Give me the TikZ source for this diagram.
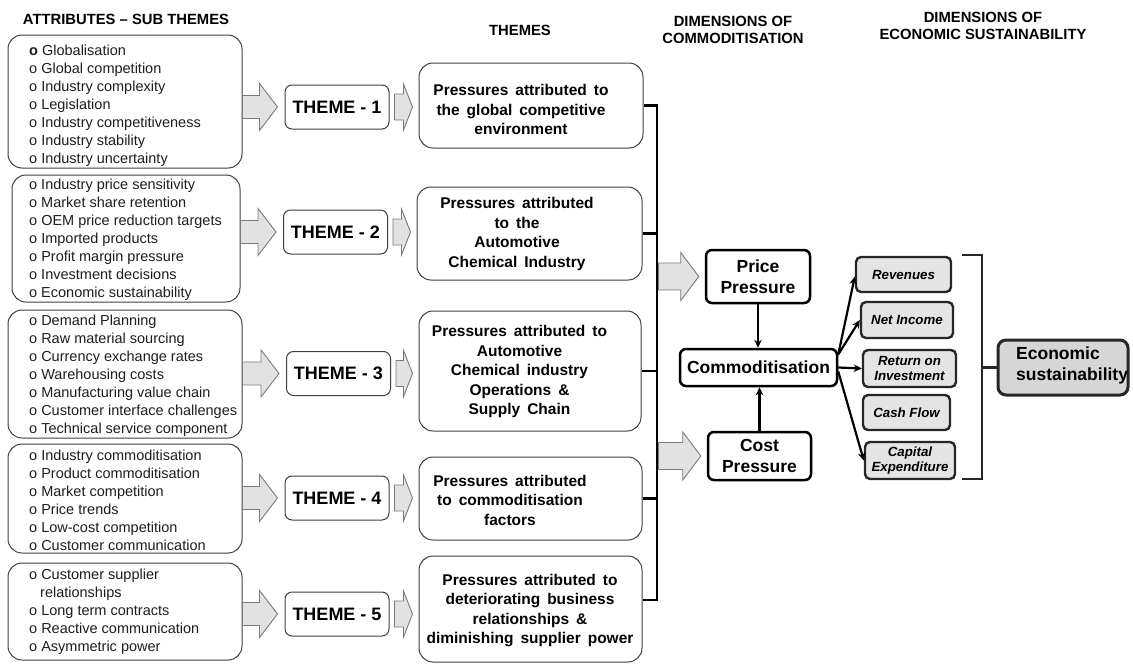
\documentclass[tikz,border=0pt]{standalone}
\usepackage{fontspec}
\setmainfont{Liberation Sans}
\usetikzlibrary{calc,arrows.meta}

\definecolor{arrowfill}{HTML}{E2E2E2}
\definecolor{arrowedge}{HTML}{7A7A7A}
\definecolor{boxedge}{HTML}{404040}
\definecolor{finfill}{HTML}{E4E4E4}
\definecolor{econfill}{HTML}{D6D6D6}
\definecolor{inktext}{HTML}{1E1E1E}

% wide block arrow from start point #1 to tip #2 (horizontal, at the y of #1)
% #3 shaft half height, #4 head half height, #5 head length
\newcommand\blockarrow[5]{%
  \draw[fatarrow] let \p1=#1, \p2=#2 in
    (\x1,\y1+#3) -- (\x2-#5,\y1+#3) -- (\x2-#5,\y1+#4) -- (\x2,\y1)
    -- (\x2-#5,\y1-#4) -- (\x2-#5,\y1-#3) -- (\x1,\y1-#3) -- cycle;}
\newcommand\xsp{\hspace{4pt}}

\begin{document}
\begin{tikzpicture}[x=1pt,y=-1pt,
  hdr/.style={font=\fontsize{14.8}{17}\selectfont\bfseries, align=center, inner sep=0pt},
  attbox/.style={draw=boxedge, line width=1pt, rounded corners=14pt, inner sep=0pt},
  atttext/.style={font=\fontsize{14.5}{18}\selectfont, align=left, inner sep=0pt,
    anchor=west, text=inktext},
  themebox/.style={draw=boxedge, line width=1pt, rounded corners=7pt, inner sep=0pt,
    minimum width=104pt, minimum height=44pt, font=\fontsize{18}{20}\selectfont\bfseries},
  pbox/.style={draw=boxedge, line width=1pt, rounded corners=14pt, inner sep=0pt},
  ptext/.style={font=\fontsize{15.5}{19.5}\selectfont\bfseries, align=center, inner sep=0pt,
    execute at begin node={\spaceskip=0.45em\relax}},
  dimbox/.style={draw=black, line width=2.5pt, rounded corners=6pt, inner sep=0pt,
    font=\fontsize{17.5}{21}\selectfont\bfseries, align=center},
  finbox/.style={draw=black!85, fill=finfill, line width=2.4pt, rounded corners=5pt,
    inner sep=0pt, font=\fontsize{13.3}{15}\selectfont\bfseries\itshape, align=center},
  econbox/.style={draw=black!85, fill=econfill, line width=3pt, rounded corners=8pt, inner sep=0pt},
  fatarrow/.style={draw=arrowedge, fill=arrowfill, line width=0.9pt, line join=miter},
  brk/.style={draw=black, line width=2.5pt},
  thinarr/.style={draw=black, line width=2.2pt, -{Stealth[length=8pt,width=7.5pt]}}
]
\fill[white] (0,0) rectangle (1133,664);
\useasboundingbox (0,0) rectangle (1133,664);

% ---------- column headings ----------
\node[hdr] (hAttr) at (126,19) {ATTRIBUTES -- SUB THEMES};
\node[hdr] (hThemes) at (520,30) {THEMES};
\node[hdr] (hDimC) at (733,29.5) {DIMENSIONS OF\\COMMODITISATION};
\node[hdr] (hDimE) at (983,26) {DIMENSIONS OF\\ECONOMIC SUSTAINABILITY};

% ---------- attribute boxes ----------
\node[attbox, minimum width=234pt, minimum height=133pt] (att1) at (125,101.5) {};
\node[attbox, minimum width=228pt, minimum height=127pt] (att2) at (126,238.5) {};
\node[attbox, minimum width=234pt, minimum height=128pt] (att3) at (125,374) {};
\node[attbox, minimum width=234pt, minimum height=109pt] (att4) at (125,498.5) {};
\node[attbox, minimum width=234pt, minimum height=97pt]  (att5) at (125,611.5) {};

\node[atttext] (att1t) at (29,105.5) {%
  \textbf{o} Globalisation\\
  o Global competition\\
  o Industry\xsp complexity\\
  o Legislation\\
  o Industry\xsp competitiveness\\
  o Industry\xsp stability\\
  o Industry\xsp uncertainty};
\node[atttext] (att2t) at (29,240) {%
  o\xsp Industry\xsp price sensitivity\\
  o\xsp Market share retention\\
  o OEM price reduction targets\\
  o Imported\xsp products\\
  o Profit margin pressure\\
  o\xsp Investment\xsp decisions\\
  o\xsp Economic sustainability};
\node[atttext] (att3t) at (29,376) {%
  o Demand Planning\\
  o Raw material sourcing\\
  o Currency\xsp exchange\xsp rates\\
  o Warehousing\xsp costs\\
  o Manufacturing\xsp value chain\\
  o Customer\xsp interface challenges\\
  o Technical\xsp service\xsp component};
\node[atttext] (att4t) at (29,500.5) {%
  o Industry\xsp commoditisation\\
  o Product commoditisation\\
  o Market competition\\
  o Price trends\\
  o Low-cost competition\\
  o Customer communication};
\node[atttext] (att5t) at (29,612) {%
  o Customer supplier\\
  \hspace*{11pt}relationships\\
  o Long term contracts\\
  o Reactive communication\\
  o Asymmetric power};

% ---------- theme boxes ----------
\node[themebox] (th1) at (337,107) {THEME - 1};
\node[themebox] (th2) at (335.5,232) {THEME - 2};
\node[themebox] (th3) at (338.5,373.5) {THEME - 3};
\node[themebox] (th4) at (337,498) {THEME - 4};
\node[themebox] (th5) at (337,614) {THEME - 5};

% ---------- pressure boxes ----------
\node[pbox, minimum width=224pt, minimum height=85pt]  (p1) at (531,105.5) {};
\node[pbox, minimum width=225pt, minimum height=93pt]  (p2) at (529.5,233.5) {};
\node[pbox, minimum width=222pt, minimum height=120pt] (p3) at (530,371) {};
\node[pbox, minimum width=223pt, minimum height=83pt]  (p4) at (530.5,498.5) {};
\node[pbox, minimum width=223pt, minimum height=106pt] (p5) at (530.5,609) {};

\node[ptext] (p1t) at (521,109.5) {Pressures attributed to\\the global competitive\\environment};
\node[ptext] (p2t) at (517,234) {Pressures attributed\\to the\\Automotive\\Chemical Industry};
\node[ptext] (p3t) at (519.5,371.5) {Pressures attributed to\\Automotive\\Chemical industry\\Operations \&\\Supply Chain};
\node[ptext] (p4t) at (510,500) {Pressures attributed\\to commoditisation\\factors};
\node[ptext] (p5t) at (530,610.5) {Pressures attributed to\\deteriorating business\\relationships \&\\diminishing supplier power};

% ---------- block arrows: attributes -> themes -> pressures ----------
\foreach \i in {1,...,5}{
  \blockarrow{(att\i.east |- th\i.west)}{([xshift=-7pt]th\i.west)}{11.5pt}{23.5pt}{18pt}
  \blockarrow{([xshift=5pt]th\i.east)}{([xshift=-6pt]p\i.west)}{13pt}{23pt}{9pt}
}

% ---------- bracket joining the pressures ----------
\coordinate (spine) at (657,106);
\coordinate (p5tick) at ([yshift=9pt]p5.east);
\draw[brk] (p1.east) -- (p1.east -| spine) -- (p5tick -| spine) -- (p5tick);
\foreach \i in {2,3,4}{ \draw[brk] (p\i.east) -- (p\i.east -| spine); }

% ---------- dimensions of commoditisation ----------
\node[dimbox, minimum width=104pt, minimum height=53pt] (price) at (758,276.5) {Price\\Pressure};
\node[dimbox, minimum width=157pt, minimum height=37pt] (commod) at (758.5,367.5) {Commoditisation};
\node[dimbox, minimum width=103pt, minimum height=48pt] (cost) at (759.5,456) {Cost\\Pressure};

\blockarrow{([xshift=1.5pt]spine |- price.west)}{([xshift=-6pt]price.west)}{13.5pt}{24pt}{18pt}
\blockarrow{([xshift=1.5pt]spine |- cost.west)}{([xshift=-6pt]cost.west)}{13.5pt}{24pt}{18pt}

\draw[thinarr] (price.south) -- (price.south |- commod.north);
\draw[thinarr] (cost.north) -- (cost.north |- commod.south);

% ---------- dimensions of economic sustainability ----------
\node[finbox, minimum width=95pt, minimum height=35pt] (rev) at (903.5,274.5) {Revenues};
\node[finbox, minimum width=92pt, minimum height=36pt] (ni)  at (907,320) {Net Income};
\node[finbox, minimum width=93pt, minimum height=37pt] (roi) at (909.5,368.5) {Return on\\Investment};
\node[finbox, minimum width=87pt, minimum height=35pt] (cf)  at (906.5,412.5) {Cash Flow};
\node[finbox, minimum width=90pt, minimum height=37pt] (cap) at (910,460.5) {Capital\\Expenditure};

\draw[thinarr] ([yshift=13pt]commod.east) -- ([yshift=-2pt]rev.west);
\draw[thinarr] ([yshift=13pt]commod.east) -- (ni.west);
\draw[thinarr] (commod.east) -- (roi.west);
\draw[thinarr] ([yshift=-4pt]commod.east) -- (cap.west);

\node[econbox, minimum width=130pt, minimum height=55pt] (econ) at (1063,367.5) {};
\node[font=\fontsize{17.5}{21}\selectfont\bfseries, align=left, inner sep=0pt, anchor=west]
  (econt) at (1016,365) {Economic\\sustainability};

\coordinate (rtop) at (962,255);
\coordinate (rbot) at (962,479);
\coordinate (rspine) at (982,367);
\draw[brk, draw=black!85] (rtop) -- (rtop -| rspine) -- (rbot -| rspine) -- (rbot);
\draw[brk, draw=black!85] (econ.west -| rspine) -- (econ.west);
\end{tikzpicture}
\end{document}
